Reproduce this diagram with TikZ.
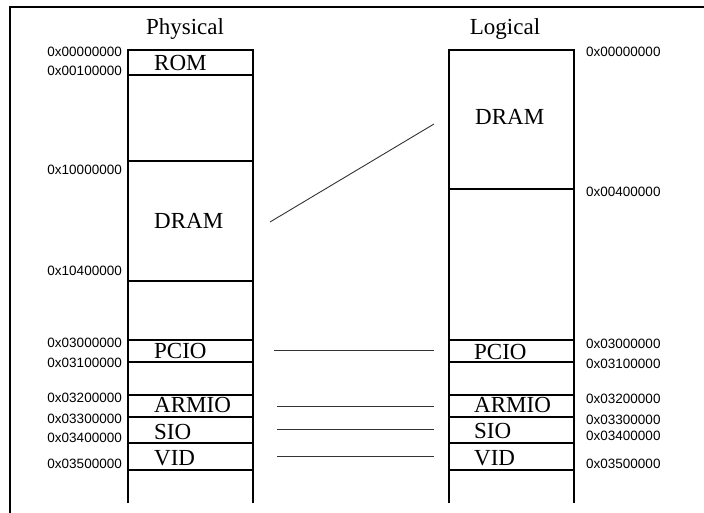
\documentclass[tikz,border=0pt]{standalone}
\usepackage{fontspec}
\setmainfont{Liberation Serif}
\newfontfamily\labfont{Liberation Sans}
\begin{document}
\begin{tikzpicture}[x=1pt,y=-1pt,
  colline/.style={line width=2pt,black},
  conn/.style={line width=0.9pt,black!80},
  region/.style={font=\fontsize{23}{25}\selectfont,inner sep=0pt,anchor=base west},
  title/.style={font=\fontsize{23}{25}\selectfont,inner sep=0pt,anchor=base},
  addrl/.style={font=\labfont\fontsize{13.5}{15}\selectfont,inner sep=0pt,anchor=east},
  addrr/.style={font=\labfont\fontsize{13.5}{15}\selectfont,inner sep=0pt,anchor=west}]
\useasboundingbox (0,0) rectangle (704,513);
% frame
\draw[line width=2.5pt] (10,513) -- (10,7) -- (704,7);
% titles
\node[title] (tphys) at (185,35) {Physical};
\node[title] (tlog) at (505,35) {Logical};
% physical column
\draw[colline] (128,503) -- (128,50) -- (253,50) -- (253,503);
\foreach \yy in {75,161,281,340,362,395,417,443,470}
  \draw[colline] (128,\yy) -- (253,\yy);
% logical column
\draw[colline] (449,503) -- (449,50) -- (574,50) -- (574,503);
\foreach \yy in {189,340,362,395,417,443,470}
  \draw[colline] (449,\yy) -- (574,\yy);
% physical region labels
\node[region] (prom) at (154,71) {ROM};
\node[region] (pdram) at (154,229) {DRAM};
\node[region] (ppcio) at (154,358) {PCIO};
\node[region] (parmio) at (154,412) {ARMIO};
\node[region] (psio) at (154,439) {SIO};
\node[region] (pvid) at (154,465) {VID};
% logical region labels
\node[region] (ldram) at (475,125) {DRAM};
\node[region] (lpcio) at (474,359) {PCIO};
\node[region] (larmio) at (474,412) {ARMIO};
\node[region] (lsio) at (474,438) {SIO};
\node[region] (lvid) at (474,465) {VID};
% physical addresses
\node[addrl] (pa0) at (122,52) {0x00000000};
\node[addrl] (pa1) at (122,71) {0x00100000};
\node[addrl] (pa2) at (122,170) {0x10000000};
\node[addrl] (pa3) at (122,271) {0x10400000};
\node[addrl] (pa4) at (122,343) {0x03000000};
\node[addrl] (pa5) at (122,363) {0x03100000};
\node[addrl] (pa6) at (122,398) {0x03200000};
\node[addrl] (pa7) at (122,419) {0x03300000};
\node[addrl] (pa8) at (122,438) {0x03400000};
\node[addrl] (pa9) at (122,464) {0x03500000};
% logical addresses
\node[addrr] (la0) at (586,52) {0x00000000};
\node[addrr] (la1) at (586,192) {0x00400000};
\node[addrr] (la2) at (586,344) {0x03000000};
\node[addrr] (la3) at (586,364) {0x03100000};
\node[addrr] (la4) at (586,399) {0x03200000};
\node[addrr] (la5) at (586,420) {0x03300000};
\node[addrr] (la6) at (586,436) {0x03400000};
\node[addrr] (la7) at (586,464) {0x03500000};
% connector end points
\coordinate (cdA) at (270,222);
\coordinate (cdB) at (434,124);
\coordinate (cpA) at (274,350);
\coordinate (cpB) at (434,350);
\coordinate (caA) at (277,406);
\coordinate (caB) at (434,406);
\coordinate (csA) at (277,429);
\coordinate (csB) at (434,429);
\coordinate (cvA) at (277,456);
\coordinate (cvB) at (434,456);
\draw[conn] (cdA) -- (cdB);
\draw[conn] (cpA) -- (cpB);
\draw[conn] (caA) -- (caB);
\draw[conn] (csA) -- (csB);
\draw[conn] (cvA) -- (cvB);
\end{tikzpicture}
\end{document}
